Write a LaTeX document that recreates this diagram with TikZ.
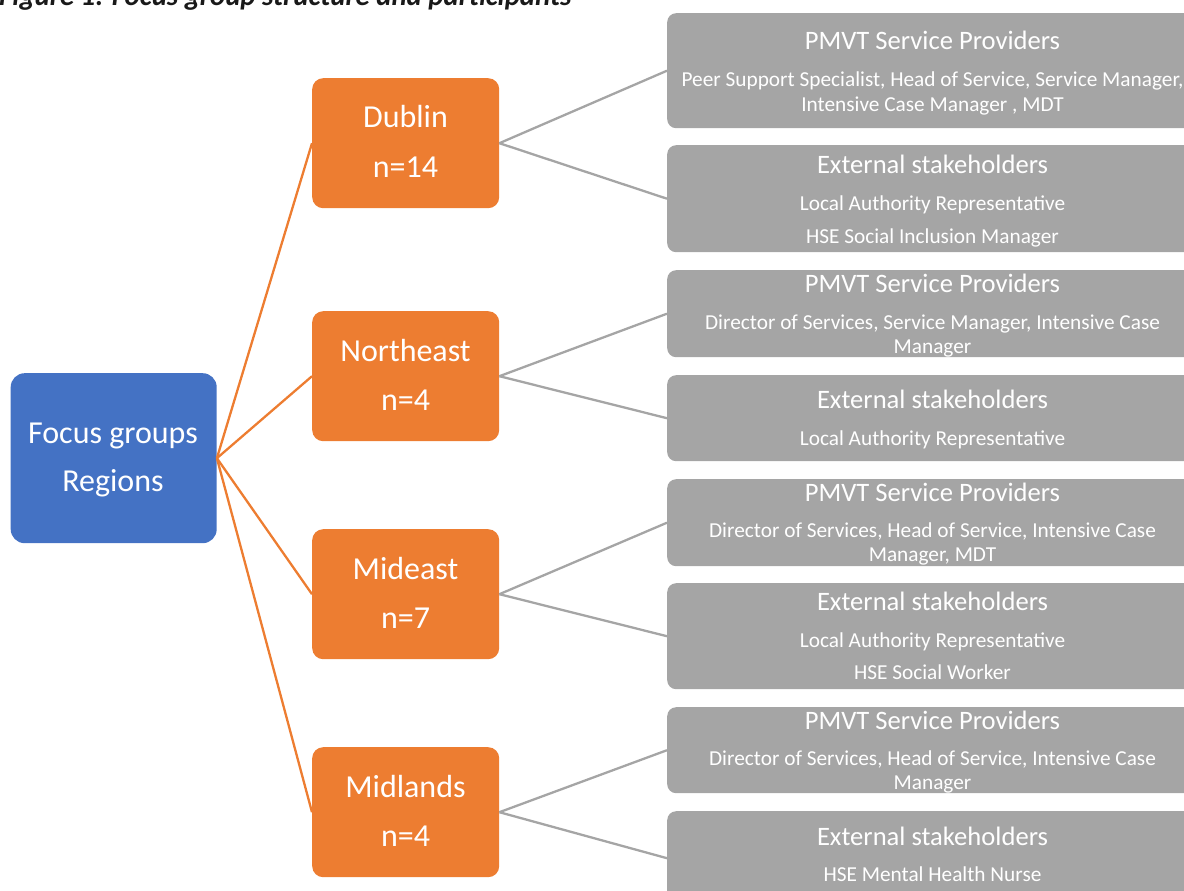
\documentclass[tikz,border=0pt]{standalone}
\usepackage{fontspec}
\setmainfont{Carlito}
\usetikzlibrary{positioning}

\definecolor{hubblue}{HTML}{4472C4}
\definecolor{regionorange}{HTML}{ED7D31}
\definecolor{groupgray}{HTML}{A5A5A5}

\tikzset{
  hub/.style={fill=hubblue, rounded corners=14pt, inner sep=0pt, anchor=north west},
  region/.style={fill=regionorange, rounded corners=11pt, inner sep=0pt, anchor=north west,
    minimum width=187pt, minimum height=130pt},
  group/.style={fill=groupgray, rounded corners=9pt, inner sep=0pt, anchor=north west,
    minimum width=531pt},
  bigtext/.style={text=white, inner sep=0pt, anchor=base, font=\fontsize{32}{38}\selectfont},
  grouptitle/.style={text=white, inner sep=0pt, anchor=base, font=\fontsize{26.6}{31}\selectfont},
  grouptext/.style={text=white, inner sep=0pt, anchor=base, font=\fontsize{21.3}{25}\selectfont},
  caption/.style={inner sep=0pt, anchor=base west, text=black!90,
    font=\fontsize{28.8}{34}\selectfont\bfseries\itshape},
  link/.style={draw=regionorange, line width=2.3pt},
  sublink/.style={draw=groupgray, line width=2.3pt}
}

\begin{document}
\begin{tikzpicture}[x=1pt, y=-1pt]
\useasboundingbox (0,0) rectangle (1184,891);
\clip (0,0) rectangle (1184,891);

% caption, cut at the top
\node[caption] (caption) at (-1,5.5) {Figure 1: Focus group structure and participants};

% centre
\node[hub, minimum width=206pt, minimum height=170pt] (hub) at (10.5,373) {};
\node[bigtext] (hubtop) at (113,443) {Focus groups};
\node[bigtext] (hubbot) at (113,491) {Regions};

% regions
\node[region] (dublin) at (312,78) {};
\node[bigtext] (dublinname) at (405.5,128) {Dublin};
\node[bigtext] (dublinn) at (405.5,177) {n=14};

\node[region] (northeast) at (312,311) {};
\node[bigtext] (northeastname) at (405.5,361) {Northeast};
\node[bigtext] (northeastn) at (405.5,410) {n=4};

\node[region] (mideast) at (312,529) {};
\node[bigtext] (mideastname) at (405.5,579) {Mideast};
\node[bigtext] (mideastn) at (405.5,628) {n=7};

\node[region] (midlands) at (312,747) {};
\node[bigtext] (midlandsname) at (405.5,797) {Midlands};
\node[bigtext] (midlandsn) at (405.5,846) {n=4};

% participant groups
\node[group, minimum height=115pt] (dublinpmvt) at (667,13) {};
\node[grouptitle] at (932.5,50) {PMVT Service Providers};
\node[grouptext] at (932.5,87) {Peer Support Specialist, Head of Service, Service Manager,};
\node[grouptext] at (932.5,111) {Intensive Case Manager , MDT};

\node[group, minimum height=107pt] (dublinext) at (667,145) {};
\node[grouptitle] at (932.5,173) {External stakeholders};
\node[grouptext] at (932.5,210) {Local Authority Representative};
\node[grouptext] at (932.5,243) {HSE Social Inclusion Manager};

\node[group, minimum height=87pt] (northeastpmvt) at (667,270) {};
\node[grouptitle] at (932.5,292) {PMVT Service Providers};
\node[grouptext] at (932.5,329) {Director of Services, Service Manager, Intensive Case};
\node[grouptext] at (932.5,353) {Manager};

\node[group, minimum height=86pt] (northeastext) at (667,375) {};
\node[grouptitle] at (932.5,408) {External stakeholders};
\node[grouptext] at (932.5,445) {Local Authority Representative};

\node[group, minimum height=87pt] (mideastpmvt) at (667,479) {};
\node[grouptitle] at (932.5,501) {PMVT Service Providers};
\node[grouptext] at (932.5,537) {Director of Services, Head of Service, Intensive Case};
\node[grouptext] at (932.5,561) {Manager, MDT};

\node[group, minimum height=106pt] (mideastext) at (667,583) {};
\node[grouptitle] at (932.5,610) {External stakeholders};
\node[grouptext] at (932.5,647) {Local Authority Representative};
\node[grouptext] at (932.5,679) {HSE Social Worker};

\node[group, minimum height=86pt] (midlandspmvt) at (667,707) {};
\node[grouptitle] at (932.5,729) {PMVT Service Providers};
\node[grouptext] at (932.5,765) {Director of Services, Head of Service, Intensive Case};
\node[grouptext] at (932.5,789) {Manager};

\node[group, minimum height=94pt] (midlandsext) at (667,811) {};
\node[grouptitle] at (932.5,845) {External stakeholders};
\node[grouptext] at (932.5,881) {HSE Mental Health Nurse};

% connectors
\draw[link] (hub.east) -- (dublin.west);
\draw[link] (hub.east) -- (northeast.west);
\draw[link] (hub.east) -- (mideast.west);
\draw[link] (hub.east) -- (midlands.west);

\draw[sublink] (dublin.east) -- (dublinpmvt.west);
\draw[sublink] (dublin.east) -- (dublinext.west);
\draw[sublink] (northeast.east) -- (northeastpmvt.west);
\draw[sublink] (northeast.east) -- (northeastext.west);
\draw[sublink] (mideast.east) -- (mideastpmvt.west);
\draw[sublink] (mideast.east) -- (mideastext.west);
\draw[sublink] (midlands.east) -- (midlandspmvt.west);
\draw[sublink] (midlands.east) -- (midlandsext.west);
\end{tikzpicture}
\end{document}
